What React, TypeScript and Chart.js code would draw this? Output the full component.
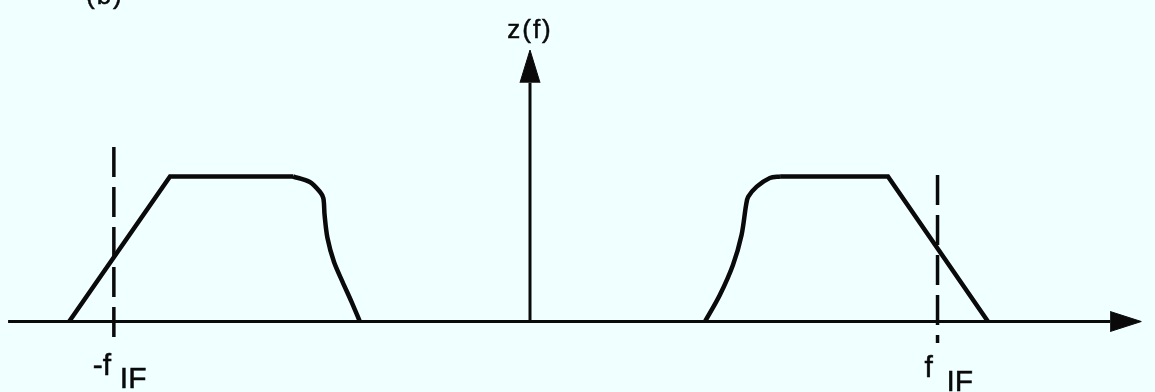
import { useEffect, useRef } from "react";
import { Chart, registerables } from "chart.js";

Chart.register(...registerables);

// Frequency in arbitrary units (f_IF ≈ 10), amplitude normalised so the passband = 1.
const F_IF_NEG = -10.15;
const F_IF_POS = 9.94;

// Lower (image) band: straight rising skirt + flat top, then rounded roll-off.
const leftEdgeF = [-11.24, -8.78, -5.78];
const leftEdgeZ = [0, 1, 1];
const leftRollF = [-5.78, -5.37, -5.12, -5.04, -5.01, -4.94, -4.78, -4.57, -4.35, -4.15];
const leftRollZ = [1, 0.962, 0.893, 0.85, 0.734, 0.576, 0.41, 0.272, 0.134, 0];

// Upper band: rounded rise, flat top, straight falling skirt.
const rightRollF = [4.27, 4.63, 4.95, 5.16, 5.27, 5.32, 5.53, 5.85, 6.1];
const rightRollZ = [0, 0.183, 0.39, 0.597, 0.803, 0.859, 0.93, 0.99, 1];
const rightEdgeF = [6.1, 8.73, 11.17];
const rightEdgeZ = [1, 1, 0];

// Axes and arrowheads
const fAxisF = [-12.73, 14.15];
const fArrowF = [14.15, 14.91, 14.15];
const fArrowZ = [0.069, 0, -0.069];
const zAxisZ = [0, 1.647];
const zArrowF = [-0.244, 0, 0.244];
const zArrowZ = [1.647, 1.872, 1.647];

// Dashed markers at ±f_IF
const negMarkerZ = [-0.176, 1.203];
const posMarkerZ = [-0.148, 1.01];

// View window
const F_MIN = -12.927;
const F_MAX = 15.244;
const Z_MIN = -0.486;
const Z_MAX = 2.217;

const INK = "#0a0a0a";
const BG = "#f0ffff";

const pts = (xs: number[], ys: number[]) => xs.map((x, i) => ({ x, y: ys[i] }));

const labelPlugin = {
  id: "diagramLabels",
  afterDatasetsDraw(chart: any) {
    const { ctx, scales } = chart;
    const xs = scales.x;
    const ys = scales.y;
    const x0 = xs.getPixelForValue(0);
    const xn = xs.getPixelForValue(F_IF_NEG);
    const xp = xs.getPixelForValue(F_IF_POS);
    const yTip = ys.getPixelForValue(zArrowZ[1]);
    const put = (t: string, x: number, y: number) => {
      ctx.fillText(t, x, y);
      ctx.strokeText(t, x, y);
    };
    ctx.save();
    ctx.fillStyle = INK;
    ctx.strokeStyle = INK;
    ctx.lineWidth = 0.5;
    ctx.textBaseline = "alphabetic";

    ctx.font = '26px "Liberation Sans", Arial, sans-serif';
    (ctx as any).letterSpacing = "2px";
    ctx.textAlign = "center";
    put("z(f)", x0, yTip - 12.5);
    ctx.textAlign = "left";
    put("(b)", 86, 4);

    ctx.font = '30px "Liberation Sans", Arial, sans-serif';
    (ctx as any).letterSpacing = "0px";
    put("-f", xn - 21, 375);
    put("IF", xn + 6, 388);
    put("f", xp - 13, 377);
    put("IF", xp + 9, 391);
    ctx.restore();
  },
};

export default function App() {
  const canvasRef = useRef<HTMLCanvasElement | null>(null);

  useEffect(() => {
    if (!canvasRef.current) return;
    const line = (data: { x: number; y: number }[], extra: any = {}) => ({
      data,
      showLine: true,
      borderColor: INK,
      backgroundColor: INK,
      pointRadius: 0,
      borderWidth: 4.5,
      tension: 0,
      fill: false,
      ...extra,
    });

    const chart = new Chart(canvasRef.current, {
      type: "scatter",
      data: {
        datasets: [
          line(pts(fAxisF, [0, 0]), { borderWidth: 3 }),
          line(pts([0, 0], zAxisZ), { borderWidth: 3 }),
          line(pts(fArrowF, fArrowZ), { borderWidth: 1, fill: "shape" }),
          line(pts(zArrowF, zArrowZ), { borderWidth: 1, fill: "shape" }),
          line(pts([F_IF_NEG, F_IF_NEG], [negMarkerZ[1], negMarkerZ[0]]), {
            borderWidth: 3.5,
            borderDash: [30, 10],
          }),
          line(pts([F_IF_POS, F_IF_POS], [posMarkerZ[1], posMarkerZ[0]]), {
            borderWidth: 3.5,
            borderDash: [30, 10],
          }),
          line(pts(leftEdgeF, leftEdgeZ)),
          line(pts(leftRollF, leftRollZ), { tension: 0.3 }),
          line(pts(rightRollF, rightRollZ), { tension: 0.3 }),
          line(pts(rightEdgeF, rightEdgeZ)),
        ],
      },
      options: {
        responsive: false,
        animation: false,
        events: [],
        layout: { padding: 0 },
        plugins: {
          legend: { display: false },
          tooltip: { enabled: false },
        },
        scales: {
          x: { type: "linear", display: false, min: F_MIN, max: F_MAX },
          y: { type: "linear", display: false, min: Z_MIN, max: Z_MAX },
        },
      },
      plugins: [labelPlugin],
    });
    return () => chart.destroy();
  }, []);

  return (
    <div
      style={{
        position: "fixed",
        left: 0,
        top: 0,
        width: 1155,
        height: 392,
        background: BG,
      }}
    >
      <canvas ref={canvasRef} width={1155} height={392} />
    </div>
  );
}
